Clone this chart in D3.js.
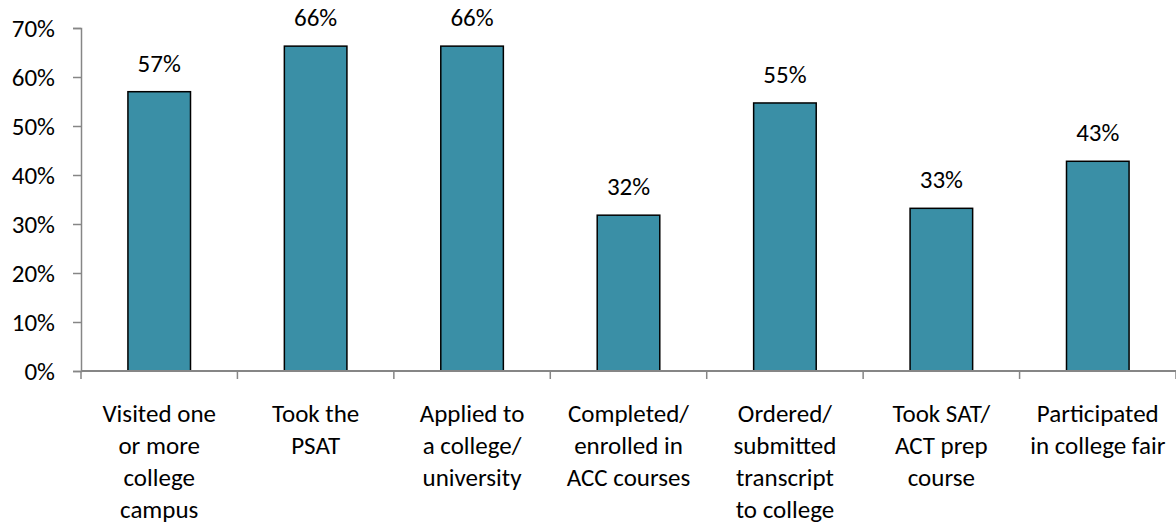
<!DOCTYPE html>
<html><head><meta charset="utf-8">
<script src="https://cdn.jsdelivr.net/npm/d3@7"></script>
<style>
html,body{margin:0;padding:0;background:#fff;}
svg text{font-family:Carlito,Lato,"Open Sans",sans-serif;fill:#000;}
</style></head>
<body><svg id="c" width="1176" height="525"></svg>
<script>
const categories = [
  "Visited one|or more|college|campus",
  "Took the|PSAT",
  "Applied to|a college/|university",
  "Completed/|enrolled in|ACC courses",
  "Ordered/|submitted|transcript|to college",
  "Took SAT/|ACT prep|course",
  "Participated|in college fair"
];
const values = [0.57, 0.663, 0.663, 0.318, 0.547, 0.332, 0.428];
const valueLabels = ["57%", "66%", "66%", "32%", "55%", "33%", "43%"];
const yTicks = [0, 0.1, 0.2, 0.3, 0.4, 0.5, 0.6, 0.7];

(function () {
const svg = d3.select("#c");
const mLeft = 81, mRight = 1176, mTop = 28, mBottom = 371;
const fs = 25;

const x = d3.scaleBand().domain(categories).range([mLeft, mRight]).paddingInner(0.6).paddingOuter(0.3);
const y = d3.scaleLinear().domain([0, 0.7]).range([mBottom, mTop]);
const axisColor = "#868686";

// y axis
const ya = svg.append("g").attr("transform", `translate(${mLeft},0)`)
  .call(d3.axisLeft(y).tickValues(yTicks).tickFormat(d3.format(".0%")).tickSize(8).tickPadding(18));
ya.attr("font-family", null).attr("font-size", null);
ya.select(".domain").attr("stroke", axisColor).attr("stroke-width", 1.5);
ya.selectAll(".tick line").attr("stroke", axisColor).attr("stroke-width", 1.5);
ya.selectAll(".tick text").attr("font-size", fs).attr("fill", "#000").attr("font-weight", 300);

// bars
svg.append("g").selectAll("rect").data(categories).join("rect")
  .attr("x", d => x(d))
  .attr("y", (d, i) => y(values[i]))
  .attr("width", x.bandwidth())
  .attr("height", (d, i) => y(0) - y(values[i]))
  .attr("fill", "#3A8FA6")
  .attr("stroke", "#000")
  .attr("stroke-width", 1.5);

// x axis line and ticks
const step = x.step();
const bounds = d3.range(categories.length + 1).map(i => mLeft + i * step);
svg.append("line").attr("x1", mLeft).attr("x2", mRight).attr("y1", mBottom).attr("y2", mBottom)
  .attr("stroke", axisColor).attr("stroke-width", 2);
svg.append("g").selectAll("line").data(bounds).join("line")
  .attr("x1", d => d).attr("x2", d => d).attr("y1", mBottom).attr("y2", mBottom + 8)
  .attr("stroke", axisColor).attr("stroke-width", 1.5);

// value labels
svg.append("g").selectAll("text").data(categories).join("text")
  .attr("x", d => x(d) + x.bandwidth() / 2)
  .attr("y", (d, i) => y(values[i]) - 20)
  .attr("text-anchor", "middle")
  .attr("font-size", fs)
  .attr("font-weight", 300)
  .text((d, i) => valueLabels[i]);

// category labels
const cl = svg.append("g").selectAll("text").data(categories).join("text")
  .attr("text-anchor", "middle")
  .attr("font-size", fs)
  .attr("font-weight", 300);
cl.each(function (d) {
  const cx = x(d) + x.bandwidth() / 2;
  d3.select(this).selectAll("tspan").data(d.split("|")).join("tspan")
    .attr("x", cx).attr("y", (t, j) => 421.5 + j * 32.2).text(t => t);
});
})();
</script></body></html>
